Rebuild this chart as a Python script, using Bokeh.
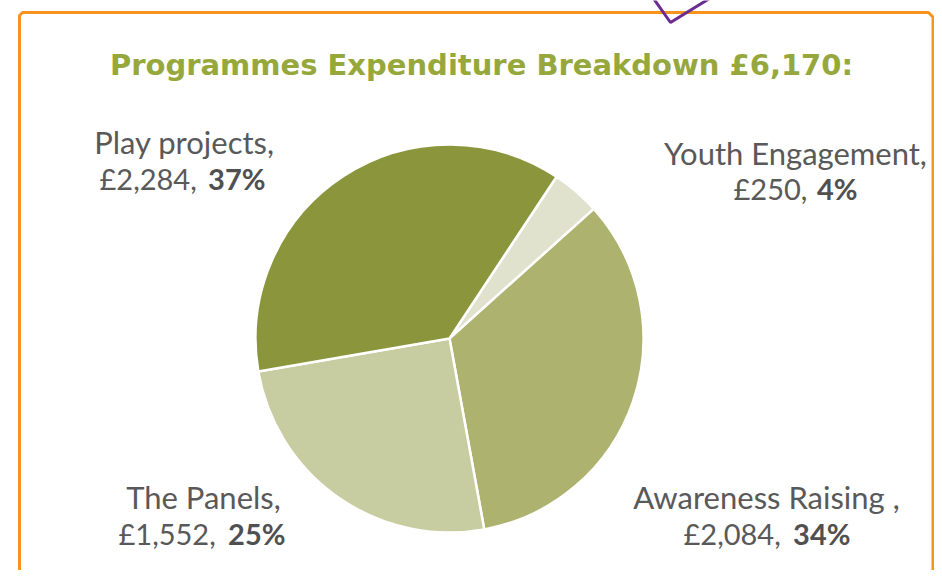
import numpy as np
from bokeh.plotting import figure
from bokeh.models import Range1d, ColumnDataSource
from bokeh.core.properties import value
from bokeh.embed import file_html
from bokeh.resources import INLINE

# ---- data ----
categories = ["Youth Engagement", "Awareness Raising", "The Panels", "Play projects"]
amounts = [250, 2084, 1552, 2284]
name_labels = ["Youth Engagement,", "Awareness Raising ,", "The Panels,", "Play projects,"]
amount_labels = ["£250,", "£2,084,", "£1,552,", "£2,284,"]
percent_labels = ["4%", "34%", "25%", "37%"]
slice_colors = ["#e0e2cd", "#adb26e", "#c8cca1", "#8b963c"]
title_text = "Programmes Expenditure Breakdown £6,170:"

# ---- layout (picture pixel coordinates) ----
W, H = 934, 570
cx, cy, R = 449, 338, 194
start_offset_deg = 33.5  # clockwise from 12 o'clock
dy_text = -11

# label anchors: (line1 centre x, line1 baseline y, line2 left x, line2 right x, line2 baseline y)
label_pos = [
    (795, 163, 733, 857, 199),
    (766, 507, 683, 850, 544),
    (203, 507, 118, 285, 544),
    (184, 152, 99, 265, 189),
]

def Y(py):
    return -py

p = figure(width=W, height=H, output_backend="svg", toolbar_location=None,
           x_range=Range1d(0, W), y_range=Range1d(-H, 0),
           x_axis_type=None, y_axis_type=None, min_border=0,
           outline_line_color=None, background_fill_color="white")
p.grid.visible = False

# ---- pie ----
amt = np.array(amounts, dtype=float)
frac = amt / amt.sum()
cum = np.concatenate([[0], np.cumsum(frac)]) * 360 + start_offset_deg
theta1 = cum[:-1]
theta2 = cum[1:]
start = np.radians(90 - theta2)
end = np.radians(90 - theta1)
src = ColumnDataSource(dict(start=start, end=end, color=slice_colors, cat=categories))
p.wedge(x=cx, y=Y(cy), radius=R, start_angle="start", end_angle="end",
        fill_color="color", line_color="white", line_width=2.5, source=src)

# ---- labels ----
font = value("Lato")
gray = "#595959"
for i in range(len(categories)):
    lx, ly, l2a, l2b, l2y = label_pos[i]
    p.text(x=[lx], y=[Y(ly + dy_text)], text=[name_labels[i]], text_font=font,
           text_font_size="31px", text_color=gray, text_align="center",
           text_baseline="alphabetic")
    p.text(x=[l2a], y=[Y(l2y + dy_text)], text=[amount_labels[i]], text_font=font,
           text_font_size="29px", text_color=gray, text_align="left",
           text_baseline="alphabetic")
    p.text(x=[l2b], y=[Y(l2y + dy_text)], text=[percent_labels[i]], text_font=font,
           text_font_size="29px", text_font_style="bold", text_color="#505050",
           text_align="right", text_baseline="alphabetic")

# ---- title ----
p.text(x=[481], y=[Y(75 + dy_text)], text=[title_text], text_font=value("DejaVu Sans"),
       text_font_size="29px", text_font_style="bold", text_color="#96a83c",
       text_align="center", text_baseline="alphabetic")

# ---- decorative frame ----
p.line(x=[19, 19, 22, 928, 932.5, 932.5], y=[Y(600), Y(15), Y(12), Y(12), Y(16.5), Y(600)],
       line_color="#f7941d", line_width=3)
p.line(x=[653, 670, 709], y=[Y(-2), Y(22), Y(-2)], line_color="#6a2c91", line_width=3)

open("out.html", "w").write(file_html(p, INLINE))
